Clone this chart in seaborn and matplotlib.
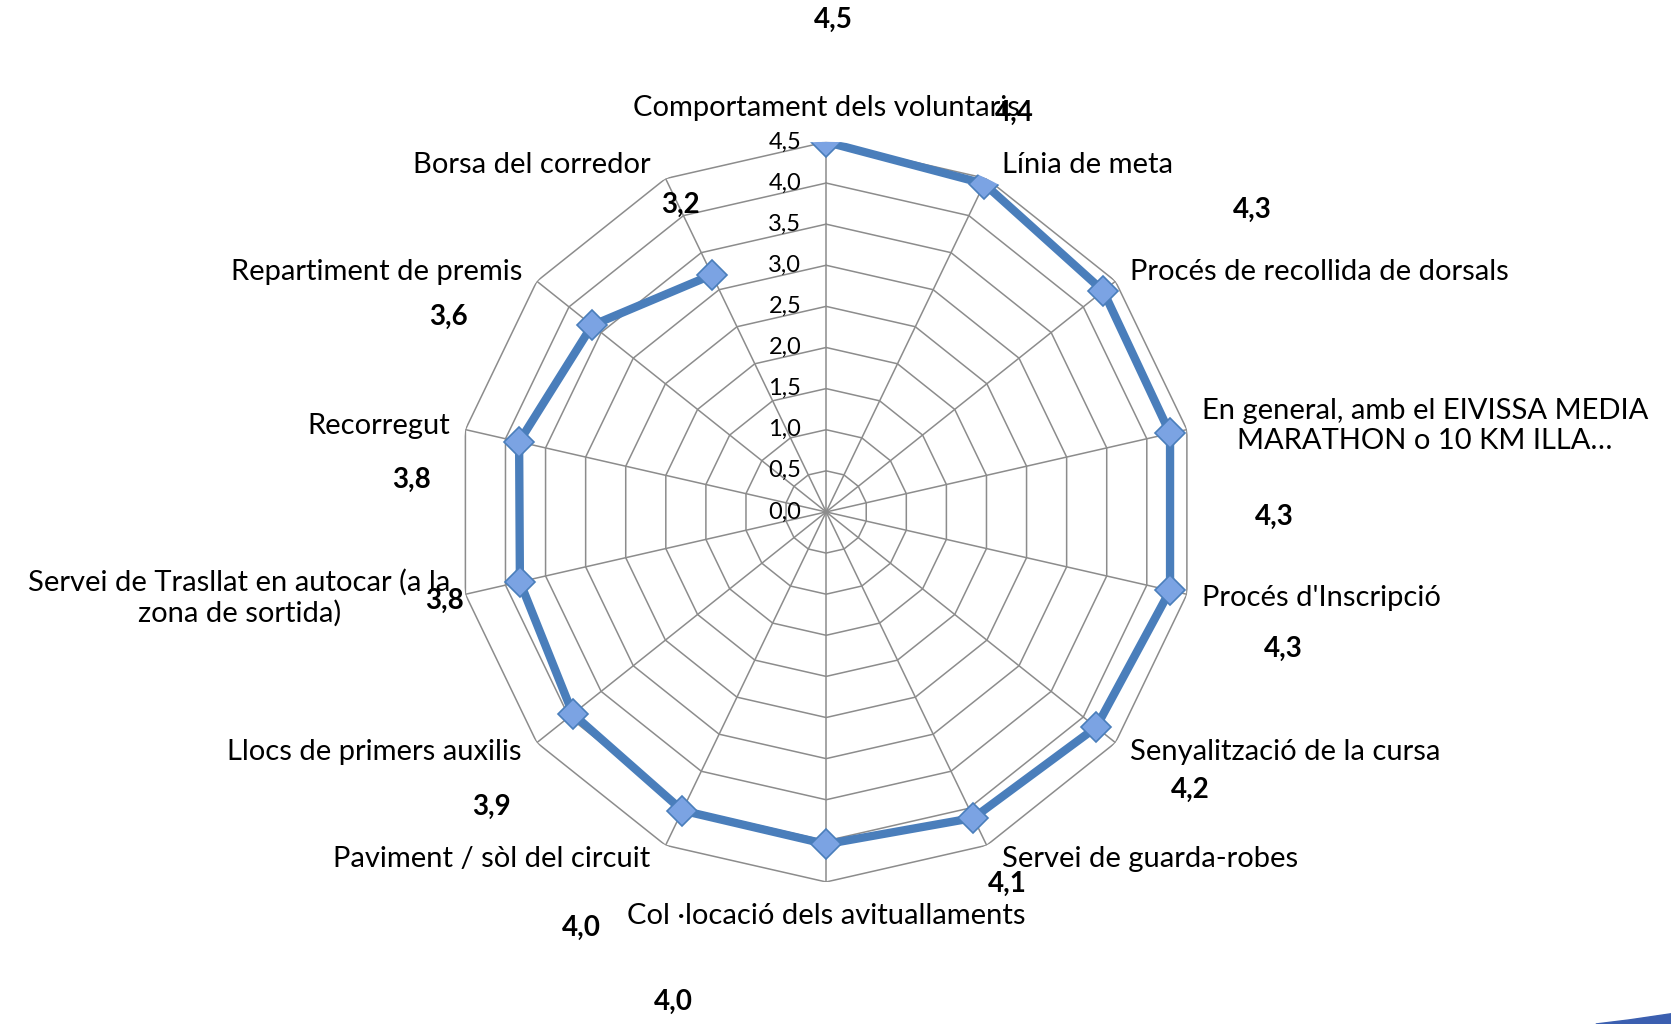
import numpy as np
import pandas as pd
import matplotlib
matplotlib.use("Agg")
import matplotlib.pyplot as plt
from matplotlib.patches import Polygon
import seaborn as sns

# dades de l'enquesta (valoracio mitjana)
categories = [
    "Comportament dels voluntaris",
    "Línia de meta",
    "Procés de recollida de dorsals",
    "En general, amb el EIVISSA MEDIA\nMARATHON o 10 KM ILLA…",
    "Procés d'Inscripció",
    "Senyalització de la cursa",
    "Servei de guarda-robes",
    "Col ·locació dels avituallaments",
    "Paviment / sòl del circuit",
    "Llocs de primers auxilis",
    "Servei de Trasllat en autocar (a la\nzona de sortida)",
    "Recorregut",
    "Repartiment de premis",
    "Borsa del corredor",
]
values = [4.5, 4.43, 4.31, 4.29, 4.29, 4.2, 4.13, 4.04, 4.03, 3.94, 3.82, 3.83, 3.64, 3.2]
ticks = [0.0, 0.5, 1.0, 1.5, 2.0, 2.5, 3.0, 3.5, 4.0, 4.5]

# desplaçament de les etiquetes de valor (px respecte del punt)
label_off = [(7, -115), (28, -67), (140, -76), (98, 78), (106, 55), (88, 59), (32, 62),
             (-143, 148), (-95, 110), (-76, 87), (-71, 18), (-101, 36), (-135, -8), (-30, -66)]

sns.set_style("white")
plt.rcParams['font.family'] = ['Lato', 'DejaVu Sans']
plt.rcParams['text.color'] = 'black'

n = len(categories)
theta = np.arange(n) * 2 * np.pi / n

fig = plt.figure(figsize=(16.71, 10.24), dpi=100)
ax = fig.add_axes([0.2729, 0.1387, 0.443, 0.7227], projection='polar')
ax.set_theta_zero_location('N')
ax.set_theta_direction(-1)
ax.set_ylim(0, 4.5)
ax.grid(False)
ax.spines['polar'].set_visible(False)
ax.set_xticks([])
ax.set_yticks([])

grid_col = '#8c8c8c'
closed = np.append(theta, theta[0])
for t in ticks[1:]:
    ax.plot(closed, [t] * (n + 1), color=grid_col, lw=1.1, zorder=1)
for th in theta:
    ax.plot([th, th], [0, 4.5], color=grid_col, lw=1.1, zorder=1)

# serie
df = pd.DataFrame({'theta': closed, 'valor': values + values[:1]})
sns.lineplot(data=df, x='theta', y='valor', ax=ax, sort=False, color='#4a7ebb',
             lw=6, marker='D', markersize=15, markerfacecolor='#7ba3e3',
             markeredgecolor='#4a7ebb', markeredgewidth=1.2, zorder=3)
ax.set_xlabel('')
ax.set_ylabel('')
ax.set_ylim(0, 4.5)

# etiquetes de l'eix radial
for t in ticks:
    ax.annotate(f"{t:.1f}".replace('.', ','), xy=(0, t), xytext=(-18, 0),
                textcoords='offset points', ha='right', va='center', fontsize=17)

# etiquetes de categories
k = 0.767
for th, cat in zip(theta, categories):
    s, c = np.sin(th), np.cos(th)
    if abs(s) < 1e-6:
        ha = 'center'
        va = 'bottom' if c > 0 else 'top'
        off = (0, 20 * c * k)
    else:
        ha = 'left' if s > 0 else 'right'
        va = 'center'
        off = (14 * np.sign(s) * k, 14 * c * k)
    ax.annotate(cat, xy=(th, 4.5), xytext=off, textcoords='offset points',
                ha=ha, va=va, fontsize=21, multialignment='center', annotation_clip=False)

# etiquetes de valor
for th, v, (dx, dy) in zip(theta, values, label_off):
    ax.annotate(f"{v:.1f}".replace('.', ','), xy=(th, v), xytext=(dx * k, -dy * k),
                textcoords='offset points', ha='center', va='center', fontsize=20,
                fontweight='bold', annotation_clip=False)

# franja blava de la cantonada
fig.patches.append(Polygon([[0.955, 0.0], [1.0, 0.0], [1.0, 0.01], [0.975, 0.004]],
                           closed=True, transform=fig.transFigure, color='#3b5fb0'))

fig.savefig('out.png', dpi=100)
